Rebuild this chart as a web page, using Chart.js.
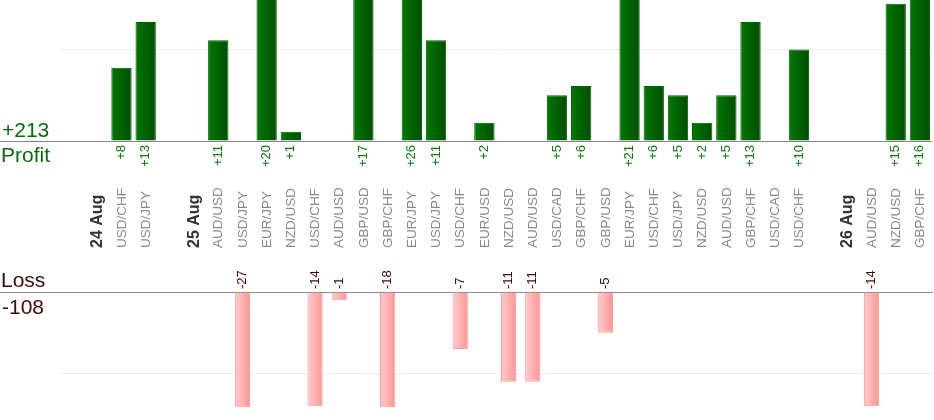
<!DOCTYPE html>
<html><head><meta charset="utf-8">
<script src="https://cdn.jsdelivr.net/npm/chart.js@4.4.1/dist/chart.umd.min.js"></script>
<style>
html,body{margin:0;padding:0;background:#fff;overflow:hidden}
#wrap{position:relative;width:934px;height:420px;font-family:"Liberation Sans",Arial,sans-serif}
canvas{position:absolute;left:0}
#cp{top:0}
#cl{top:170px}
.lbl{position:absolute;font-size:21px;line-height:21px;white-space:nowrap;z-index:5}
.pos{color:#0a6a0a}
.neg{color:#3c0808}
</style></head><body>
<div id="wrap">
<canvas id="cp" width="934" height="175"></canvas>
<canvas id="cl" width="934" height="250"></canvas>
<div class="lbl pos" id="tp" style="left:2px;top:119px"></div>
<div class="lbl pos" style="left:1px;top:144px">Profit</div>
<div class="lbl neg" style="left:1px;top:269px">Loss</div>
<div class="lbl neg" id="tl" style="left:2px;top:296px"></div>
</div>
<script>
const categories = ['', '24 Aug', 'USD/CHF', 'USD/JPY', '', '25 Aug', 'AUD/USD', 'USD/JPY', 'EUR/JPY', 'NZD/USD', 'USD/CHF', 'AUD/USD', 'GBP/USD', 'GBP/CHF', 'EUR/JPY', 'USD/JPY', 'USD/CHF', 'EUR/USD', 'NZD/USD', 'AUD/USD', 'USD/CAD', 'GBP/CHF', 'GBP/USD', 'EUR/JPY', 'USD/CHF', 'USD/JPY', 'NZD/USD', 'AUD/USD', 'GBP/CHF', 'USD/CAD', 'USD/CHF', '', '26 Aug', 'AUD/USD', 'NZD/USD', 'GBP/CHF'];
const dateLabels = ['24 Aug', '25 Aug', '26 Aug'];
const profit = [null, null, 8, 13, null, null, 11, null, 20, 1, null, null, 17, null, 26, 11, null, 2, null, null, 5, 6, null, 21, 6, 5, 2, 5, 13, null, 10, null, null, null, 15, 16];
const loss = [null, null, null, null, null, null, null, -27, null, null, -14, -1, null, -18, null, null, -7, null, -11, -11, null, null, -5, null, null, null, null, null, null, null, null, null, null, -14, null, null];
const totalProfit = '+213';
const totalLoss = '-108';
const profitRange = [0, 15.4];
const lossRange = [-14.1, 0];
const gridStep = 10;

document.getElementById('tp').textContent = totalProfit;
document.getElementById('tl').textContent = totalLoss;

const FAMILY = '"Liberation Sans", Arial, sans-serif';

function barGradient(ctx, c1, c2, pct) {
  const chart = ctx.chart; const xs = chart.scales && chart.scales.x;
  if (!chart.chartArea || !xs) return c1;
  const cx = xs.getPixelForValue(ctx.dataIndex);
  const hw = xs.width / categories.length * pct / 2;
  if (!isFinite(cx) || !isFinite(hw) || hw <= 0) return c1;
  const g = chart.ctx.createLinearGradient(cx - hw, 0, cx + hw, 0);
  g.addColorStop(0, c1); g.addColorStop(1, c2);
  return g;
}

function gridColor(c) {
  const v = c.tick && c.tick.value;
  if (v === 0) return '#888888';
  if (Math.abs(v) === gridStep) return '#ededed';
  return 'rgba(0,0,0,0)';
}
function tickColor(c) {
  return (c.tick && c.tick.value === 0) ? '#888888' : 'rgba(0,0,0,0)';
}

const valueLabels = {
  id: 'valueLabels',
  afterDatasetsDraw(chart, args, opts) {
    const ctx = chart.ctx;
    const meta = chart.getDatasetMeta(0);
    const data = chart.data.datasets[0].data;
    const base = chart.scales.y.getPixelForValue(0);
    ctx.save();
    ctx.font = '13px ' + FAMILY;
    ctx.fillStyle = opts.color;
    ctx.textBaseline = 'middle';
    meta.data.forEach((el, i) => {
      const v = data[i];
      if (v === null || v === undefined) return;
      const txt = v > 0 ? '+' + v : String(v);
      ctx.save();
      ctx.translate(el.x, base + opts.offset);
      ctx.rotate(-Math.PI / 2);
      ctx.textAlign = opts.align;
      ctx.fillText(txt, 0, 0);
      ctx.restore();
    });
    ctx.restore();
  }
};

const categoryLabels = {
  id: 'categoryLabels',
  afterDraw(chart, args, opts) {
    const ctx = chart.ctx;
    const xs = chart.scales.x;
    const yStart = chart.chartArea.top - opts.gap;
    ctx.save();
    ctx.textBaseline = 'middle';
    ctx.textAlign = 'left';
    categories.forEach((lab, i) => {
      if (!lab) return;
      const isDate = dateLabels.includes(lab);
      ctx.font = isDate ? 'bold 16px ' + FAMILY : '13.5px ' + FAMILY;
      ctx.fillStyle = isDate ? '#333333' : '#8a8a8a';
      ctx.save();
      ctx.translate(xs.getPixelForValue(i) + 0.5, yStart);
      ctx.rotate(-Math.PI / 2);
      ctx.fillText(lab, 0, 0);
      ctx.restore();
    });
    ctx.restore();
  }
};

const yCommon = {
  ticks: { display: false, stepSize: gridStep, includeBounds: false },
  border: { display: false },
  grid: { color: gridColor, tickColor: tickColor, drawTicks: true, tickLength: 61, lineWidth: 1 }
};

new Chart(document.getElementById('cp'), {
  type: 'bar',
  data: { labels: categories, datasets: [{
    data: profit,
    backgroundColor: c => barGradient(c, '#007800', '#004e00', 0.84),
    borderColor: '#005f00', borderWidth: 1,
    categoryPercentage: 1, barPercentage: 0.84
  }]},
  options: {
    responsive: false, animation: false, events: [],
    layout: { padding: { top: 0, right: 2, bottom: 34, left: 0 } },
    plugins: { legend: { display: false }, tooltip: { enabled: false },
      valueLabels: { color: '#0d7a0d', offset: 4, align: 'right' } },
    scales: {
      x: { display: false, offset: true },
      y: Object.assign({ min: profitRange[0], max: profitRange[1] }, yCommon)
    }
  },
  plugins: [valueLabels]
});

new Chart(document.getElementById('cl'), {
  type: 'bar',
  data: { labels: categories, datasets: [{
    data: loss,
    backgroundColor: c => barGradient(c, '#ffcccc', '#ff9595', 0.63),
    borderColor: '#ff9a9a', borderWidth: 1,
    categoryPercentage: 1, barPercentage: 0.63
  }]},
  options: {
    responsive: false, animation: false, events: [],
    layout: { padding: { top: 0, right: 2, bottom: 13, left: 0 } },
    plugins: { legend: { display: false }, tooltip: { enabled: false },
      valueLabels: { color: '#3c0808', offset: -3, align: 'left' },
      categoryLabels: { gap: 44 } },
    scales: {
      x: {
        position: 'top', offset: true,
        grid: { display: false },
        border: { display: true, color: '#888888' },
        ticks: { display: false },
        afterFit: s => { s.height = 122; }
      },
      y: Object.assign({ min: lossRange[0], max: lossRange[1] }, yCommon)
    }
  },
  plugins: [valueLabels, categoryLabels]
});
</script>
</body></html>
